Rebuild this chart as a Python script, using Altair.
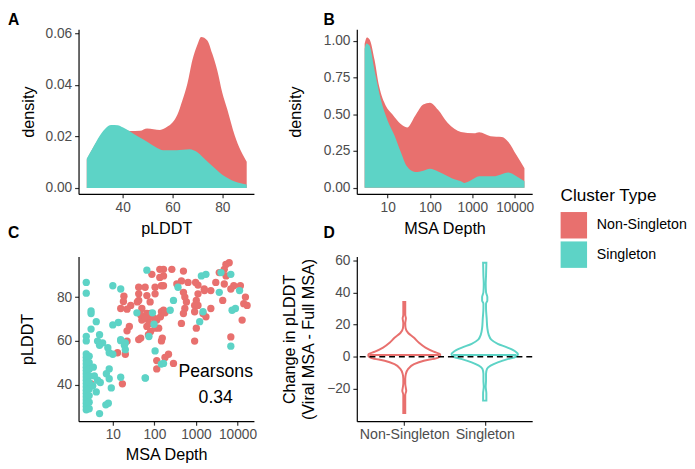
import altair as alt
import pandas as pd

FONT = "Liberation Sans"
RED = "#E8706E"
TEAL = "#5DD3C6"
TYPES = ["Non-Singleton", "Singleton"]

# ---------- Panel A: density of pLDDT (upper boundary of each filled area) ----------
a_red_x = [25.6, 30, 35.4, 38, 43, 47, 49.8, 55, 58, 60, 62, 64, 66, 68, 70, 71.5, 74, 76, 78, 80, 82, 85, 89.8]
a_red_y = [0.0110, 0.0185, 0.0238, 0.0238, 0.0221, 0.0222, 0.0231, 0.0225, 0.0238, 0.0254, 0.0285, 0.0340,
           0.0405, 0.0496, 0.0555, 0.0585, 0.0572, 0.0520, 0.0455, 0.0369, 0.0305, 0.0203, 0.0102]
a_teal_x = [25.6, 28, 30, 33, 35.4, 38, 40, 43, 46, 50, 53, 56.4, 61.6, 66.9, 70, 72, 76, 80, 85, 89.8]
a_teal_y = [0.0114, 0.0155, 0.0190, 0.0230, 0.0244, 0.0243, 0.0235, 0.0219, 0.0200, 0.0178, 0.0160, 0.0146,
            0.0146, 0.0150, 0.0138, 0.0121, 0.0085, 0.0051, 0.0025, 0.0013]

# ---------- Panel B: density of log MSA depth ----------
b_red_x = [2.86, 3.24, 3.72, 4.9, 6.3, 9.1, 12.9, 20.4, 28.8, 44.7, 69.2, 100, 155, 263, 537, 1100, 1450, 2700, 5000, 7100, 11000, 17000]
b_red_y = [0.98, 1.022, 1.01, 0.87, 0.69, 0.556, 0.50, 0.433, 0.41, 0.49, 0.567, 0.578, 0.53, 0.44, 0.38, 0.37,
           0.378, 0.351, 0.345, 0.311, 0.222, 0.133]
b_teal_x = [2.86, 3.16, 3.72, 4.9, 6.9, 10, 14.5, 20.4, 28.8, 44.7, 69.2, 100, 155, 263, 316, 537, 650, 910, 1450,
            3160, 4570, 7100, 11000, 17000]
b_teal_y = [0.944, 0.982, 0.967, 0.80, 0.60, 0.456, 0.356, 0.244, 0.144, 0.107, 0.116, 0.129, 0.111, 0.078, 0.067,
            0.044, 0.033, 0.049, 0.078, 0.078, 0.089, 0.104, 0.078, 0.044]

# ---------- Panel C: scatter MSA depth vs pLDDT ----------
c_red_depth = [87, 135, 135, 42, 60, 104, 148, 18.5, 18, 42, 66, 104, 42, 79, 27, 15.5, 22, 50, 66, 148, 50, 72, 114,
               66, 104, 22, 42, 72, 155, 39, 47, 61, 81, 100, 140, 127, 81, 74, 47, 25, 13,
               6300, 5250, 4800, 3640, 263, 500, 166, 166, 447, 645, 347, 1120, 4800, 8130, 6900, 166, 1580, 2280,
               500, 540, 1120, 1020, 930, 1120, 590, 4400, 15500, 17000, 12900, 166, 180, 540, 500, 930, 1480,
               2280, 1740, 447, 1020, 6900, 930, 980, 1600, 3000, 5300, 11700, 14100,
               20, 17, 114, 114, 22, 148, 219, 288, 180, 3.0]
c_red_plddt = [90.4, 92.7, 89, 84.5, 84.5, 84.5, 85.2, 80.4, 78, 81.5, 80.7, 81.5, 78.5, 77.8, 76.2, 74.8, 74.5, 74.8,
               72.5, 73.3, 69.5, 70.3, 69.5, 66.6, 65.8, 64.6, 60.6, 62.8, 61.3, 77.8, 71.8, 70.3, 72.5, 70.3, 71,
               65.8, 64.3, 68, 61.3, 66.6, 54.6,
               95.7, 94.9, 92.7, 91.2, 92.7, 91.9, 92.7, 89.7, 87.4, 86.7, 86, 85.5, 86, 85.2, 83.7, 85.2, 83.7, 83,
               82.2, 80, 81.5, 78.5, 76.2, 76.2, 77.8, 78.5, 80, 76.2, 69.5, 74, 72.8, 74.8, 72.5, 73.3, 72.5,
               74.8, 71, 68, 65.8, 61.8, 59.9, 86.7, 83, 86.7, 89.7, 85.2, 77,
               53.9, 40.4, 51, 47.2, 59.9, 60, 53.9, 49.7, 52.4, 40.4]
c_teal_depth = [2.3, 2.3, 66, 10, 15.5, 3.0, 3.0, 4.0, 3.0, 2.3, 2.3, 4.8, 5.7, 10, 13.6, 38, 90, 98, 15.5, 20,
                1350, 1740, 6900, 4000, 370, 3640, 11200, 288, 240, 1480, 8900, 7400, 1230, 6900,
                2.3, 2.3, 2.3, 2.3, 2.3, 2.3, 2.3, 2.3, 2.3, 2.3, 2.3, 2.3, 2.3, 2.3, 2.3, 2.3, 2.3, 2.3,
                2.7, 2.7, 2.7, 2.7, 2.7, 2.7, 2.7, 2.7, 2.7,
                4.3, 4.8, 8.2, 10, 8.2, 8.2, 4.3, 7, 9.2, 15.5, 4, 6.8, 7.8, 4.8, 60, 104, 15.5, 61, 147, 74, 166,
                3.4, 3.6, 20, 19, 7.6, 3.3, 5]
c_teal_plddt = [86.7, 81.8, 92.3, 85.2, 83.7, 73.7, 72.5, 68.8, 65.4, 62.1, 60, 62.8, 59.1, 67.3, 68.4, 72.8, 72.8,
                67.6, 60.6, 59.1,
                89.7, 90.4, 90.4, 91.2, 84.5, 82.2, 83, 78.5, 74, 73.3, 74.8, 74, 68.8, 57.6,
                54, 52.5, 51, 49.5, 48, 46.5, 45, 43.5, 42, 40.5, 39, 37.5, 36, 34.5, 33, 31.5, 30, 28.5,
                53, 50, 47, 44, 41, 38, 35, 32, 29,
                59.9, 58, 54.6, 53.9, 47.2, 42.7, 42, 45, 38.5, 43.4, 36.7, 30.8, 31.5, 26.8, 43.1, 55.4, 60.1, 43,
                49.4, 62, 49.7, 48, 44, 56, 58, 56.9, 39.5, 41]
pearson_label = ["Pearsons", "0.34"]

# ---------- Panel D: violins of change in pLDDT (half-widths in category units) ----------
d_red_y = [-34.9, -31, -27, -23.7, -21, -19.7, -16.6, -13.6, -10.5, -7.5, -4.5, -2.4, -0.8, 0.6, 1.6, 3.2, 5.7,
           8.7, 11.8, 14.8, 17.8, 20.9, 23.9, 26, 30, 34]
d_red_hw = [3, 3, 3, 3, 6, 5, 3, 3, 5, 12, 30, 60, 100, 110, 110, 90, 65, 45, 30, 12, 4, 3, 5, 3, 3, 3]
d_teal_y = [-27.2, -22.7, -18.6, -14.6, -10.5, -7.5, -5.5, -3.4, -1.4, 0, 1.6, 3.2, 5.7, 8.1, 10.7, 13.8, 17.8,
            23.9, 30, 33, 35, 37.1, 40.1, 45.2, 50.3, 58.4]
d_teal_hw = [5, 5, 3, 4, 4, 7, 18, 40, 70, 95, 102, 95, 70, 40, 20, 12, 8, 6, 4, 4, 8, 8, 4, 3, 4, 5]
d_median = [1.2, 1.2]
d_median_hw = [107, 97]
d_centers = [1, 2]
PX_PER_UNIT = 82.2  # used only to convert read-off half-widths (zoomed px) into category units


def fill_enc():
    return alt.Fill("type:N", scale=alt.Scale(domain=TYPES, range=[RED, TEAL]),
                    legend=alt.Legend(title="Cluster Type", orient="none", legendX=492, legendY=161,
                                      symbolType="square", symbolSize=729, symbolStrokeWidth=0,
                                      symbolOpacity=1, titleFontSize=17.5, labelFontSize=14.5,
                                      titleFontWeight="normal", titleFont=FONT, labelFont=FONT,
                                      titleColor="black", labelColor="black", rowPadding=3,
                                      labelOffset=10, titlePadding=8))


def tag(letter, dx, dy):
    return alt.Chart(pd.DataFrame({"t": [letter]})).mark_text(
        align="left", baseline="top", fontSize=16, fontWeight="bold", font=FONT, color="black"
    ).encode(text="t:N", x=alt.value(dx), y=alt.value(dy))


W, H = 179, 168

# Panel A
dfA_red = pd.DataFrame({"x": a_red_x, "y": a_red_y, "type": TYPES[0]})
dfA_teal = pd.DataFrame({"x": a_teal_x, "y": a_teal_y, "type": TYPES[1]})
xA = alt.X("x:Q", scale=alt.Scale(domain=[22.3, 92.7], nice=False, zero=False),
           axis=alt.Axis(values=[40, 60, 80], title="pLDDT", titlePadding=6))
yA = alt.Y("y:Q", stack=None, scale=alt.Scale(domain=[-0.0023, 0.0615], nice=False, zero=False),
           axis=alt.Axis(values=[0, 0.02, 0.04, 0.06], format=".2f", title="density", titlePadding=9))
A = alt.layer(
    alt.Chart(dfA_red).mark_area(interpolate="monotone").encode(x=xA, y=yA, fill=fill_enc()),
    alt.Chart(dfA_teal).mark_area(interpolate="monotone").encode(x=xA, y=yA, fill=fill_enc()),
    tag("A", -72, -17),
).properties(width=W, height=H)

# Panel B
dfB_red = pd.DataFrame({"x": b_red_x, "y": b_red_y, "type": TYPES[0]})
dfB_teal = pd.DataFrame({"x": b_teal_x, "y": b_teal_y, "type": TYPES[1]})
xB = alt.X("x:Q", scale=alt.Scale(type="log", domain=[1.87, 25900], nice=False),
           axis=alt.Axis(values=[10, 100, 1000, 10000], format="d", title="MSA Depth", titlePadding=6))
yB = alt.Y("y:Q", stack=None, scale=alt.Scale(domain=[-0.042, 1.078], nice=False, zero=False),
           axis=alt.Axis(values=[0, 0.25, 0.5, 0.75, 1.0], format=".2f", title="density", titlePadding=20))
B = alt.layer(
    alt.Chart(dfB_red).mark_area(interpolate="monotone").encode(x=xB, y=yB, fill=fill_enc()),
    alt.Chart(dfB_teal).mark_area(interpolate="monotone").encode(x=xB, y=yB, fill=fill_enc()),
    tag("B", -34, -17),
).properties(width=W, height=H)

# Panel C
dfC = pd.concat([
    pd.DataFrame({"depth": c_red_depth, "plddt": c_red_plddt, "type": TYPES[0]}),
    pd.DataFrame({"depth": c_teal_depth, "plddt": c_teal_plddt, "type": TYPES[1]}),
], ignore_index=True)
dfC["order"] = range(len(dfC))
xC = alt.X("depth:Q", scale=alt.Scale(type="log", domain=[1.5, 24800], nice=False),
           axis=alt.Axis(values=[10, 100, 1000, 10000], format="d", title="MSA Depth", titlePadding=5))
yC = alt.Y("plddt:Q", scale=alt.Scale(domain=[23.3, 98.5], nice=False, zero=False),
           axis=alt.Axis(values=[40, 60, 80], title="pLDDT", titlePadding=21))
dfPear = pd.DataFrame({"depth": [2990, 2990], "plddt": [45.7, 33.7], "t": pearson_label})
C = alt.layer(
    alt.Chart(dfC).mark_circle(size=56, opacity=1).encode(x=xC, y=yC, fill=fill_enc(), order="order:Q"),
    alt.Chart(dfPear).mark_text(fontSize=18, font=FONT, color="black").encode(
        x=alt.X("depth:Q"), y=alt.Y("plddt:Q"), text="t:N"),
    tag("C", -72, -32),
).properties(width=W, height=H)

# Panel D
rows = []
for name, c, ys, hws in [(TYPES[0], d_centers[0], d_red_y, d_red_hw), (TYPES[1], d_centers[1], d_teal_y, d_teal_hw)]:
    for yv, hw in zip(ys, hws):
        u = hw / 3 / PX_PER_UNIT
        rows.append({"type": name, "y": yv, "lo": c - u, "hi": c + u})
dfD = pd.DataFrame(rows)
dfMed = pd.DataFrame({
    "type": TYPES, "y": d_median,
    "lo": [c - h / 3 / PX_PER_UNIT for c, h in zip(d_centers, d_median_hw)],
    "hi": [c + h / 3 / PX_PER_UNIT for c, h in zip(d_centers, d_median_hw)],
})
xD = alt.X("lo:Q", scale=alt.Scale(domain=[0.41, 2.59], nice=False, zero=False),
           axis=alt.Axis(values=[1, 2], labelExpr="datum.value == 1 ? 'Non-Singleton' : 'Singleton'",
                         title=None, labelFontSize=14.5))
yD = alt.Y("y:Q", scale=alt.Scale(domain=[-40, 62.25], nice=False, zero=False),
           axis=alt.Axis(values=[-20, 0, 20, 40, 60], title=["Change in pLDDT", "(Viral MSA - Full MSA)"],
                         titlePadding=10, titleLineHeight=20))
stroke_enc = alt.Stroke("type:N", scale=alt.Scale(domain=TYPES, range=[RED, TEAL]), legend=None)
violins = alt.Chart(dfD).mark_area(orient="horizontal", interpolate="monotone", fillOpacity=0,
                                   strokeWidth=2).encode(
    y=yD, x=xD, x2="hi:Q", stroke=stroke_enc, detail="type:N")
medians = alt.Chart(dfMed).mark_rule(strokeWidth=2).encode(x=xD, x2="hi:Q", y=yD, stroke=stroke_enc)
zero_line = alt.Chart(pd.DataFrame({"y": [0]})).mark_rule(
    strokeDash=[6, 4], strokeWidth=1.5, color="black").encode(y=yD)
D = alt.layer(violins, medians, zero_line, tag("D", -34, -32)).properties(width=W, height=H)

chart = alt.concat(A, B, C, D, columns=2, spacing=alt.RowColnumber(column=105, row=64),
                   bounds="flush", align="all").properties(padding=0).configure_axis(
    labelFont=FONT, titleFont=FONT, labelFontSize=14, titleFontSize=16.5, labelColor="#4D4D4D",
    titleColor="black", titleFontWeight="normal", grid=False, domainColor="black", domainWidth=1.2,
    tickColor="#333333", tickSize=4, tickWidth=1.2, labelPadding=3
).configure_view(stroke=None).configure_text(font=FONT)

chart.save("out.html", embed_options={"renderer": "svg", "actions": False})
